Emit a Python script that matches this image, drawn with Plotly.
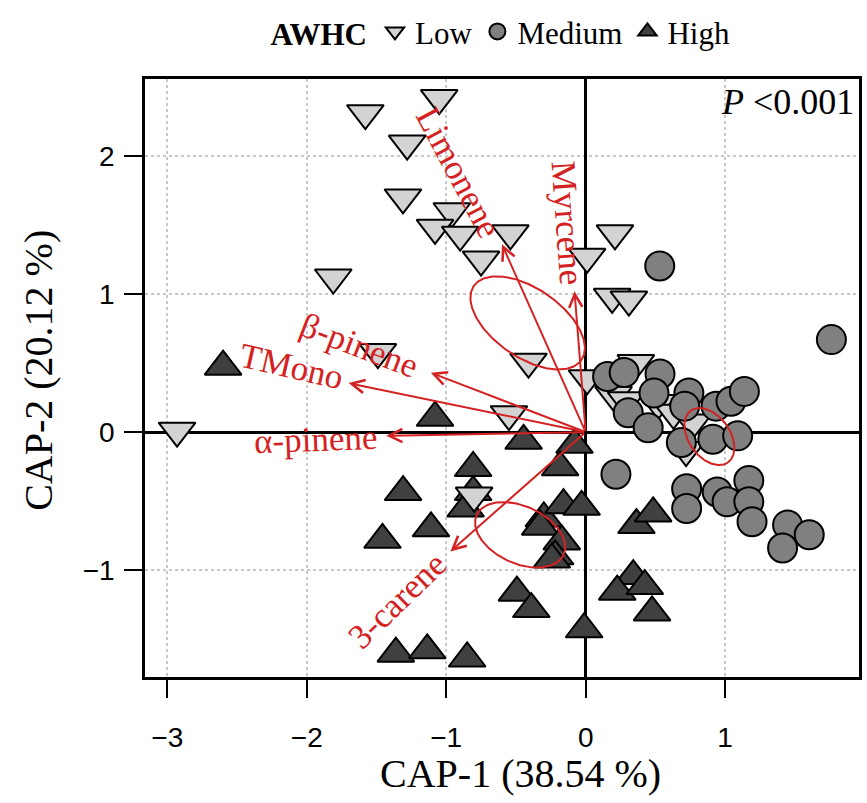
import numpy as np
import plotly.graph_objects as go

# ---------------- data ----------------
low_x = [-1.05, -1.58, -1.28, -1.31, -0.96, -1.08, -0.90, -0.75, -0.54, -1.81, -1.49, -0.41,
         -0.55, -2.93, -0.80, 0.21, 0.01, 0.19, 0.31, 0.01, 0.36, 0.20, 0.29, 0.52, 0.63, 0.77, 0.72]
low_y = [2.42, 2.31, 2.09, 1.70, 1.60, 1.48, 1.43, 1.25, 1.44, 1.12, 0.58, 0.51,
         0.13, 0.01, -0.46, 1.44, 1.27, 0.98, 0.96, 0.39, 0.50, 0.27, 0.23, 0.21, 0.14, 0.07, -0.13]
# Low samples that are plotted above the High samples in the original
low_on_top = [14]

med_x = [0.531, 1.762, 0.157, 0.276, 0.533, 0.49, 0.74, 0.305, 0.448, 0.935, 1.042, 1.138, 0.71,
         0.686, 0.912, 1.09, 0.217, 1.17, 0.943, 1.014, 1.17, 1.193, 0.724, 0.724, 1.448, 1.603, 1.412]
med_y = [1.203, 0.67, 0.403, 0.432, 0.421, 0.283, 0.283, 0.14, 0.032, 0.188, 0.224, 0.295, 0.188,
         -0.075, -0.052, -0.027, -0.305, -0.35, -0.434, -0.505, -0.505, -0.649, -0.41, -0.553, -0.672, -0.744, -0.84]

high_x = [-2.60, -1.08, -0.445, -0.08, -0.183, -0.807, -0.807, -0.861, -1.309, -1.109, -1.457, -0.30,
          -0.159, -0.029, -0.326, -0.171, -0.219, -0.243, -0.493, -0.39, -1.361, -1.136, -0.85, -0.011,
          0.341, 0.226, 0.424, 0.476, 0.364, 0.484]
high_y = [0.474, 0.104, -0.063, -0.092, -0.255, -0.26, -0.434, -0.554, -0.434, -0.697, -0.78, -0.625,
          -0.529, -0.541, -0.685, -0.792, -0.9, -0.923, -1.163, -1.282, -1.605, -1.581, -1.64, -1.428,
          -1.043, -1.156, -1.115, -1.306, -0.673, -0.589]

# constrained vectors (arrow tips)
vec_names = ["Limonene", "Myrcene", "β-pinene", "TMono", "α-pinene", "3-carene"]
vec_x = [-0.60, -0.08, -1.11, -1.70, -1.43, -0.97]
vec_y = [1.36, 1.02, 0.43, 0.355, -0.027, -0.864]
lab_x = [-0.91, -0.13, -1.625, -2.11, -1.94, -1.35]
lab_y = [1.884, 1.52, 0.63, 0.475, -0.05, -1.22]
lab_angle = [62, 86, 21, 13, -2, -44]

# group ellipses
ell_cx = [-0.416, 0.887, -0.47]
ell_cy = [0.791, -0.032, -0.744]
ell_a = [0.47, 0.23, 0.343]
ell_b = [0.248, 0.148, 0.207]
ell_ang = [-35, -55, -25]

x_ticks = [-3, -2, -1, 0, 1]
y_ticks = [-1, 0, 1, 2]

RED = "#D42222"
SERIF = "Liberation Serif"
SANS = "Liberation Sans"

low_marker = dict(symbol="triangle-down", size=32, color="#D3D3D3", line=dict(color="black", width=2))
high_marker = dict(symbol="triangle-up", size=32, color="#404040", line=dict(color="black", width=2))
med_marker = dict(symbol="circle", size=29, color="#808080", line=dict(color="black", width=2))

low_bottom = [i for i in range(len(low_x)) if i not in low_on_top]

fig = go.Figure()
fig.add_trace(go.Scatter(x=[low_x[i] for i in low_bottom], y=[low_y[i] for i in low_bottom],
                         mode="markers", name="Low", legendgroup="Low", legendrank=1,
                         marker=low_marker))
fig.add_trace(go.Scatter(x=high_x, y=high_y, mode="markers", name="High", legendgroup="High",
                         legendrank=3, marker=high_marker))
fig.add_trace(go.Scatter(x=[low_x[i] for i in low_on_top], y=[low_y[i] for i in low_on_top],
                         mode="markers", name="Low", legendgroup="Low", showlegend=False,
                         marker=low_marker))
fig.add_trace(go.Scatter(x=med_x, y=med_y, mode="markers", name="Medium", legendgroup="Medium",
                         legendrank=2, marker=med_marker))

t = np.linspace(0, 2 * np.pi, 200)
for cx, cy, a, b, ang in zip(ell_cx, ell_cy, ell_a, ell_b, ell_ang):
    th = np.deg2rad(ang)
    ex = cx + a * np.cos(t) * np.cos(th) - b * np.sin(t) * np.sin(th)
    ey = cy + a * np.cos(t) * np.sin(th) + b * np.sin(t) * np.cos(th)
    fig.add_trace(go.Scatter(x=ex, y=ey, mode="lines", showlegend=False, hoverinfo="skip",
                             line=dict(color=RED, width=2)))

annotations = []
for vx, vy in zip(vec_x, vec_y):
    annotations.append(dict(x=vx, y=vy, ax=0, ay=0, xref="x", yref="y", axref="x", ayref="y",
                            text="", showarrow=True, arrowhead=5, arrowsize=1.3,
                            arrowwidth=2, arrowcolor=RED, standoff=0, startstandoff=0))
for name, lx, ly, la in zip(vec_names, lab_x, lab_y, lab_angle):
    annotations.append(dict(x=lx, y=ly, xref="x", yref="y", text=name, showarrow=False,
                            textangle=la, font=dict(family=SERIF, size=35, color=RED)))

annotations.append(dict(x=0.996, y=0.962, xref="paper", yref="paper", xanchor="right",
                        yanchor="middle", text="<i>P</i> &lt;0.001", showarrow=False,
                        font=dict(family=SERIF, size=36, color="black")))
annotations.append(dict(x=0.526, y=-0.203, xref="paper", yref="paper", xanchor="center",
                        yanchor="bottom", text="CAP-1 (38.54 %)", showarrow=False,
                        font=dict(family=SERIF, size=40, color="black")))
annotations.append(dict(x=-0.149, y=0.513, xref="paper", yref="paper", xanchor="center",
                        yanchor="middle", text="CAP-2 (20.12 %)", showarrow=False, textangle=-90,
                        font=dict(family=SERIF, size=40, color="black")))

axis_common = dict(ticks="outside", ticklen=18, tickwidth=2, tickcolor="black",
                   showgrid=True, gridcolor="#C8C8C8", griddash="dot", gridwidth=2,
                   zeroline=True, zerolinecolor="black", zerolinewidth=2.5,
                   showline=True, mirror=True, linecolor="black", linewidth=2.5,
                   tickfont=dict(family=SANS, size=28, color="black"))

fig.update_layout(
    width=867, height=803,
    margin=dict(l=145, r=5, t=73, b=126),
    paper_bgcolor="white", plot_bgcolor="white",
    xaxis=dict(range=[-3.16, 1.96], tickvals=x_ticks, ticklabelstandoff=16, **axis_common),
    yaxis=dict(range=[-1.774, 2.558], tickvals=y_ticks, ticklabelstandoff=4, **axis_common),
    legend=dict(orientation="h", x=0.5, xanchor="center", y=1.079, yanchor="middle",
                title=dict(text="<b>AWHC</b>", font=dict(family=SERIF, size=31, color="black")),
                font=dict(family=SERIF, size=31, color="black"), itemsizing="trace",
                traceorder="normal"),
    annotations=annotations,
    showlegend=True,
)

fig.write_html("out.html")
